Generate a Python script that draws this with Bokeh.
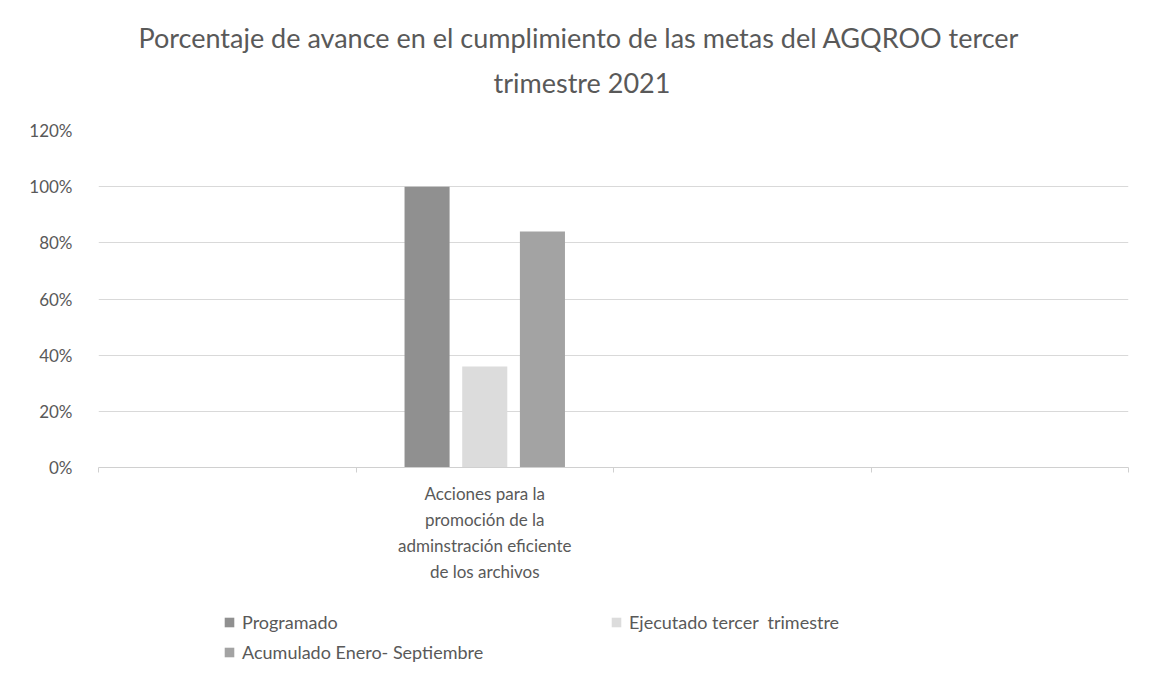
from bokeh.plotting import figure
from bokeh.layouts import column
from bokeh.models import (Range1d, LinearAxis, FixedTicker,
                          NumeralTickFormatter, Title, Legend, LegendItem, ColumnDataSource)
from bokeh.transform import dodge
from bokeh.embed import file_html
from bokeh.resources import INLINE

categories = ["", "Acciones para la\npromoción de la\nadminstración eficiente\nde los archivos", "", ""]
filled_category = [categories[1]]
programado = [1.00]
ejecutado = [0.36]
acumulado = [0.84]
series_names = ["Programado", "Ejecutado tercer  trimestre", "Acumulado Enero- Septiembre"]
colors = ["#909090", "#dcdcdc", "#a3a3a3"]
y_ticks = [0, 0.2, 0.4, 0.6, 0.8, 1.0, 1.2]

FONT = "Lato"
TXT = "#595959"

centers = [i + 0.5 for i in range(len(categories))]
xpos = [centers[categories.index(c)] for c in filled_category]
src = ColumnDataSource(dict(x=xpos, p=programado, e=ejecutado, a=acumulado))

p = figure(x_range=Range1d(0, len(categories)), y_range=Range1d(0, 1.2),
           frame_width=1030, frame_height=337, output_backend="svg", toolbar_location=None,
           x_axis_location=None, y_axis_location=None, title=None,
           min_border_left=98, min_border_right=15, min_border_top=130, min_border_bottom=130)
p.outline_line_color = None
p.xgrid.visible = False
p.ygrid.ticker = FixedTicker(ticks=y_ticks)
p.ygrid.grid_line_color = "#d9d9d9"

# y axis
yax = LinearAxis(ticker=FixedTicker(ticks=y_ticks), formatter=NumeralTickFormatter(format="0%"))
yax.axis_line_color = None
yax.major_tick_line_color = None
yax.minor_tick_line_color = None
yax.major_label_standoff = 20
yax.major_label_text_font = FONT
yax.major_label_text_font_size = "17px"
yax.major_label_text_color = TXT
p.add_layout(yax, "left")

# boundary tick axis
tax = LinearAxis(ticker=FixedTicker(ticks=list(range(len(categories) + 1))))
tax.axis_line_color = "#d0d0d0"
tax.major_tick_line_color = "#d0d0d0"
tax.major_tick_in = 0
tax.major_tick_out = 5
tax.minor_tick_line_color = None
tax.major_label_text_font_size = "0px"
tax.major_label_standoff = 0
p.add_layout(tax, "below")

# category label axis
cax = LinearAxis(ticker=FixedTicker(ticks=centers),
                 major_label_overrides={c: lab for c, lab in zip(centers, categories)})
cax.axis_line_color = None
cax.major_tick_line_color = None
cax.minor_tick_line_color = None
cax.major_label_standoff = 4
cax.major_label_text_font = FONT
cax.major_label_text_font_size = "17px"
cax.major_label_text_color = TXT
cax.major_label_text_line_height = 1.25
p.add_layout(cax, "below")

w = 0.175
off = 0.224
p.vbar(x=dodge("x", -off), top="p", width=w, source=src, fill_color=colors[0], line_color=None)
p.vbar(x=dodge("x", 0.0), top="e", width=w, source=src, fill_color=colors[1], line_color=None)
p.vbar(x=dodge("x", off), top="a", width=w, source=src, fill_color=colors[2], line_color=None)

p.add_layout(Title(text="trimestre 2021", align="left", text_font=FONT, text_font_size="27px",
                   text_font_style="normal", text_color=TXT, standoff=64, offset=395), "above")
p.add_layout(Title(text="Porcentaje de avance en el cumplimiento de las metas del AGQROO  tercer",
                   align="left", text_font=FONT, text_font_size="27px",
                   text_font_style="normal", text_color=TXT, standoff=-45, offset=40), "above")

# legend strip (the legend's sample renderers sit far outside the visible ranges)
lf = figure(x_range=Range1d(-100, -99), y_range=Range1d(50, 51), width=1143, height=81,
            output_backend="svg", toolbar_location=None, x_axis_location=None,
            y_axis_location=None, title=None, min_border=0)
lf.outline_line_color = None
lf.xgrid.visible = False
lf.ygrid.visible = False
lr_p = lf.vbar(x="x", top="p", width=w, source=src, fill_color=colors[0], line_color=None)
lr_e = lf.vbar(x="x", top="e", width=w, source=src, fill_color=colors[1], line_color=None)
lr_a = lf.vbar(x="x", top="a", width=w, source=src, fill_color=colors[2], line_color=None)
legend = Legend(items=[LegendItem(label=series_names[0], renderers=[lr_p]),
                       LegendItem(label=series_names[2], renderers=[lr_a]),
                       LegendItem(label=series_names[1], renderers=[lr_e])],
                ncols=2, location=(125, 15), orientation="vertical")
legend.border_line_color = None
legend.background_fill_alpha = 0
legend.label_text_font = FONT
legend.label_text_font_size = "18px"
legend.label_text_color = TXT
legend.glyph_width = 12
legend.glyph_height = 12
legend.label_height = 22
legend.label_standoff = 7
legend.label_width = 360
legend.spacing = 8
legend.padding = 0
legend.margin = 0
lf.add_layout(legend, "center")

layout = column(p, lf, spacing=0)
open("out.html", "w").write(file_html(layout, INLINE))
